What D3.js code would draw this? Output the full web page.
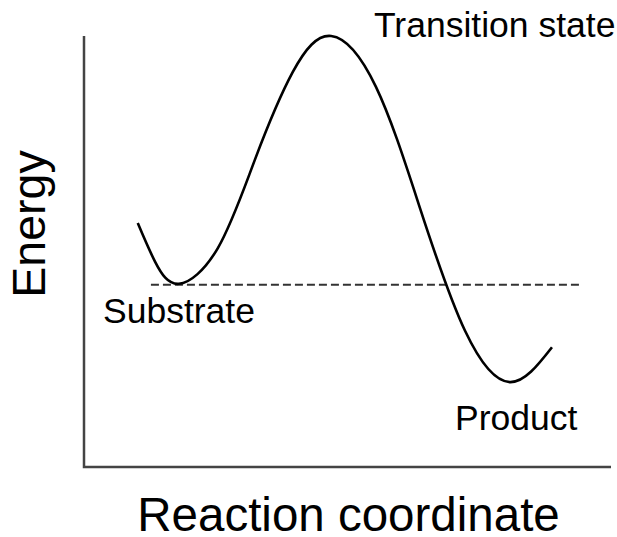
<!DOCTYPE html>
<html>
<head>
<meta charset="utf-8">
<script src="https://d3js.org/d3.v7.min.js"></script>
<style>
  body { margin: 0; background: #fff; }
  text { font-family: "Liberation Sans", Arial, Helvetica, sans-serif; fill: #000; }
</style>
</head>
<body>
<script>
// energy profile (x = reaction coordinate, y = energy, both 0..100)
const coordX = [10.2, 13.5, 18.0, 25.4, 32.4, 39.6, 46.9, 55.4, 63.8, 72.3, 80.8, 88.8];
const energyY = [56.6, 47.6, 42.5, 50.8, 71.2, 91.6, 100, 88.2, 59.9, 31.6, 19.7, 27.8];
const substrateLevel = 42.3;
const dashedFrom = 12.7, dashedTo = 94.5;
const labels = ['Transition state', 'Substrate', 'Product'];
const xTitle = 'Reaction coordinate';
const yTitle = 'Energy';

const w = 617, h = 537;
const svg = d3.select('body').append('svg')
  .attr('width', w).attr('height', h);

const x = d3.scaleLinear().domain([0, 100]).range([84, 611]);
const y = d3.scaleLinear().domain([0, 100]).range([467, 36]);

// axes: plain lines, no ticks
svg.append('path')
  .attr('d', `M${x(0)},${y(100)}V${y(0)}H${x(100)}`)
  .attr('fill', 'none')
  .attr('stroke', '#444')
  .attr('stroke-width', 2.5);

// substrate level
svg.append('line')
  .attr('x1', x(dashedFrom)).attr('x2', x(dashedTo))
  .attr('y1', y(substrateLevel)).attr('y2', y(substrateLevel))
  .attr('stroke', '#333')
  .attr('stroke-width', 2)
  .attr('stroke-dasharray', '8,4');

const line = d3.line()
  .x((d, i) => x(coordX[i]))
  .y((d, i) => y(energyY[i]))
  .curve(d3.curveNatural);

svg.append('path')
  .attr('d', line(coordX))
  .attr('fill', 'none')
  .attr('stroke', '#000')
  .attr('stroke-width', 2.6);

svg.append('text').attr('x', 374).attr('y', 37)
  .attr('font-size', 35.5).text(labels[0]);
svg.append('text').attr('x', 103).attr('y', 323)
  .attr('font-size', 35.5).text(labels[1]);
svg.append('text').attr('x', 455).attr('y', 430)
  .attr('font-size', 35.5).text(labels[2]);

svg.append('text')
  .attr('x', (x(0) + x(100)) / 2 + 1).attr('y', 531)
  .attr('text-anchor', 'middle')
  .attr('font-size', 47.5).text(xTitle);

svg.append('text')
  .attr('transform', 'translate(45,224) rotate(-90)')
  .attr('text-anchor', 'middle')
  .attr('font-size', 46.5).text(yTitle);
</script>
</body>
</html>
